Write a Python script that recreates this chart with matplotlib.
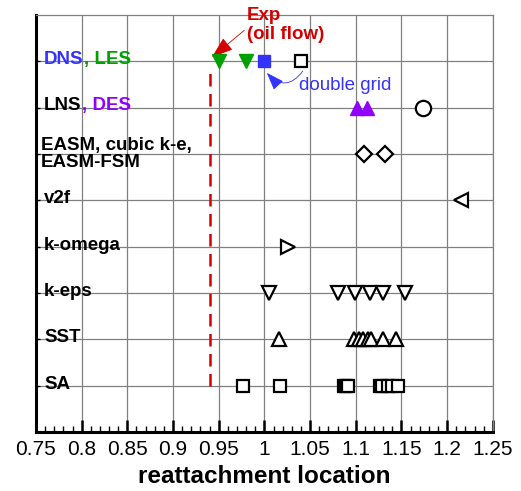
import numpy as np
import matplotlib
matplotlib.use("Agg")
import matplotlib.pyplot as plt
from matplotlib.ticker import MultipleLocator

plt.rcParams["font.family"] = ["Liberation Sans", "DejaVu Sans"]

# -------- data --------
x_ticks = [0.75, 0.8, 0.85, 0.9, 0.95, 1.0, 1.05, 1.1, 1.15, 1.2, 1.25]
x_tick_labels = ["0.75", "0.8", "0.85", "0.9", "0.95", "1", "1.05", "1.1", "1.15", "1.2", "1.25"]

# row positions (bottom to top)
rows = {"SA": 1, "SST": 2, "k-eps": 3, "k-omega": 4, "v2f": 5, "EASM": 6, "LNS": 7, "DNS": 8}

exp_x = 0.94
les_x = [0.95, 0.98]
dns_x = [1.0]
dns_double_x = [1.04]
des_x = [1.101, 1.112]
lns_x = [1.174]
easm_x = [1.109, 1.132]
v2f_x = [1.215]
komega_x = [1.026]
keps_x = [1.005, 1.080, 1.099, 1.116, 1.130, 1.154]
sst_x = [1.016, 1.098, 1.103, 1.108, 1.113, 1.117, 1.130, 1.144]
sa_x = [0.977, 1.017, 1.087, 1.089, 1.091, 1.126, 1.129, 1.135, 1.140, 1.146]

BLUE = "#3333ff"
GREEN = "#00a000"
PURPLE = "#9100ff"
RED = "#d40000"

fig = plt.figure(figsize=(5.21, 4.91), dpi=100)
ax = fig.add_axes([0.069, 0.12, 0.877, 0.8495])

open_kw = dict(linestyle="none", mfc="white", mec="black", mew=1.6, zorder=5)

ax.plot([exp_x, exp_x], [1.0, 7.8], color=RED, lw=1.8, dashes=(5, 3), zorder=3)

ax.plot(les_x, [rows["DNS"]] * len(les_x), "v", color=GREEN, ms=10, linestyle="none", zorder=5)
ax.plot(dns_x, [rows["DNS"]] * len(dns_x), "s", color=BLUE, ms=8.5, linestyle="none", zorder=5)
ax.plot(dns_double_x, [rows["DNS"]] * len(dns_double_x), "s", ms=8.5, **open_kw)
ax.plot(des_x, [rows["LNS"]] * len(des_x), "^", color=PURPLE, ms=10, linestyle="none", zorder=5)
ax.plot(lns_x, [rows["LNS"]] * len(lns_x), "o", ms=11, **open_kw)
ax.plot(easm_x, [rows["EASM"]] * len(easm_x), "D", ms=8, **open_kw)
ax.plot(v2f_x, [rows["v2f"]] * len(v2f_x), "<", ms=10.5, **open_kw)
ax.plot(komega_x, [rows["k-omega"]] * len(komega_x), ">", ms=10, **open_kw)
ax.plot(keps_x, [rows["k-eps"]] * len(keps_x), "v", ms=10.5, **open_kw)
ax.plot(sst_x, [rows["SST"]] * len(sst_x), "^", ms=10.5, **open_kw)
ax.plot(sa_x, [rows["SA"]] * len(sa_x), "s", ms=8.5, **open_kw)

# row labels
lab_x = 0.759
lab_kw = dict(fontsize=13.5, fontweight="bold", va="center", ha="left", zorder=6)
t = ax.text(lab_x, rows["DNS"] + 0.04, "DNS", color=BLUE, **lab_kw)
ax.annotate(", LES", xycoords=t, xy=(1, 0.5), va="center", ha="left",
            fontsize=13.5, fontweight="bold", color=GREEN)
t = ax.text(lab_x, rows["LNS"] + 0.04, "LNS", color="black", **lab_kw)
ax.annotate(", DES", xycoords=t, xy=(1, 0.5), va="center", ha="left",
            fontsize=13.5, fontweight="bold", color=PURPLE)
ax.text(lab_x - 0.004, rows["EASM"], "EASM, cubic k-e,\nEASM-FSM", linespacing=1.05, **lab_kw)
for name in ["v2f", "k-omega", "k-eps", "SST", "SA"]:
    ax.text(lab_x, rows[name] + 0.03, name, **lab_kw)

# annotations
ax.annotate("Exp\n(oil flow)", xy=(0.9426, 8.09), xytext=(0.981, 8.78),
            color=RED, fontsize=13.5, fontweight="bold", ha="left", va="center",
            linespacing=1.15, annotation_clip=False,
            arrowprops=dict(arrowstyle="-|>,head_length=1.0,head_width=0.35",
                            color=RED, lw=0.6, shrinkA=0, shrinkB=0,
                            relpos=(0, 0.42)))
ax.annotate("", xy=(1.0027, 7.75), xytext=(1.042, 7.79),
            arrowprops=dict(arrowstyle="-|>,head_length=1.1,head_width=0.4",
                            color=BLUE, lw=0.6, shrinkA=0, shrinkB=0,
                            connectionstyle="arc3,rad=-0.6"))
ax.text(1.038, 7.47, "double grid", color=BLUE, fontsize=13.5, ha="left", va="center")

# axes styling
ax.set_xlim(0.75, 1.25)
ax.set_ylim(0, 9)
ax.set_xticks(x_ticks)
ax.set_xticklabels(x_tick_labels, fontsize=15)
ax.xaxis.set_minor_locator(MultipleLocator(0.01))
ax.set_yticks(list(rows.values()))
ax.set_yticklabels([])
ax.tick_params(axis="x", which="major", direction="in", length=9, width=1.8, pad=6)
ax.tick_params(axis="x", which="minor", direction="in", length=4.5, width=1.0)
ax.tick_params(axis="y", direction="in", length=3, width=1)
ax.grid(True, which="major", color="#808080", lw=0.9)
ax.set_axisbelow(True)
for side in ["left", "bottom"]:
    ax.spines[side].set_linewidth(2.2)
    ax.spines[side].set_color("black")
for side in ["top", "right"]:
    ax.spines[side].set_linewidth(0.9)
    ax.spines[side].set_color("#808080")
ax.set_xlabel("reattachment location", fontsize=17.5, fontweight="bold", labelpad=4)

fig.savefig("out.png", dpi=100)
